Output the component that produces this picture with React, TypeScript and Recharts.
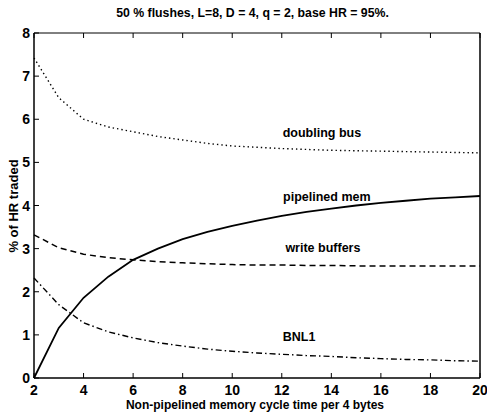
import React from 'react';
import {
  LineChart,
  Line,
  XAxis,
  YAxis,
  ReferenceDot,
} from 'recharts';

const cycleTimes = [2, 3, 4, 5, 6, 7, 8, 9, 10, 11, 12, 13, 14, 15, 16, 17, 18, 19, 20];
const doublingBus = [7.42, 6.5, 6.0, 5.82, 5.71, 5.6, 5.52, 5.44, 5.38, 5.35, 5.32, 5.3, 5.28, 5.27, 5.26, 5.25, 5.24, 5.23, 5.22];
const pipelinedMem = [0, 1.16, 1.86, 2.35, 2.74, 3.0, 3.22, 3.39, 3.53, 3.65, 3.76, 3.85, 3.93, 4.0, 4.06, 4.11, 4.16, 4.19, 4.22];
const writeBuffers = [3.32, 3.02, 2.87, 2.79, 2.74, 2.7, 2.67, 2.65, 2.63, 2.62, 2.62, 2.61, 2.61, 2.6, 2.6, 2.6, 2.6, 2.6, 2.6];
const bnl1 = [2.32, 1.7, 1.28, 1.07, 0.93, 0.82, 0.74, 0.67, 0.62, 0.58, 0.55, 0.52, 0.5, 0.47, 0.45, 0.43, 0.42, 0.4, 0.39];

const xTicks = [2, 4, 6, 8, 10, 12, 14, 16, 18, 20];
const yTicks = [0, 1, 2, 3, 4, 5, 6, 7, 8];

const seriesLabels = [
  { text: 'doubling bus', x: 13.62, y: 5.68 },
  { text: 'pipelined mem', x: 13.82, y: 4.2 },
  { text: 'write buffers', x: 13.66, y: 3.02 },
  { text: 'BNL1', x: 12.7, y: 0.95 },
];

const data = cycleTimes.map((t, i) => ({
  t,
  doubling: doublingBus[i],
  pipelined: pipelinedMem[i],
  buffers: writeBuffers[i],
  bnl1: bnl1[i],
}));

const W = 487;
const H = 414;
const PL = 34;
const PR = 480;
const PT = 33;
const PB = 378;
const TICK = 5;
const FONT = '"Liberation Sans", Arial, sans-serif';

// eslint-disable-next-line @typescript-eslint/no-explicit-any
function BottomTick({ x, payload }: any) {
  return (
    <g>
      <line x1={x} x2={x} y1={PB} y2={PB - TICK} stroke="#000" />
      <text x={x} y={PB + 17} textAnchor="middle" fontSize={14} fontWeight="bold" fontFamily={FONT} fill="#000">
        {payload.value}
      </text>
    </g>
  );
}

// eslint-disable-next-line @typescript-eslint/no-explicit-any
function TopTick({ x }: any) {
  return <line x1={x} x2={x} y1={PT} y2={PT + TICK} stroke="#000" />;
}

// eslint-disable-next-line @typescript-eslint/no-explicit-any
function LeftTick({ y, payload }: any) {
  return (
    <g>
      <line x1={PL} x2={PL + TICK} y1={y} y2={y} stroke="#000" />
      <text x={PL - 4} y={y + 5} textAnchor="end" fontSize={14} fontWeight="bold" fontFamily={FONT} fill="#000">
        {payload.value}
      </text>
    </g>
  );
}

// eslint-disable-next-line @typescript-eslint/no-explicit-any
function RightTick({ y }: any) {
  return <line x1={PR} x2={PR - TICK} y1={y} y2={y} stroke="#000" />;
}

export default function App() {
  return (
    <div style={{ position: 'absolute', left: 0, top: 0, width: W, height: H, background: '#fff' }}>
      <div
        style={{
          position: 'absolute',
          left: 0,
          width: 505,
          top: 6,
          textAlign: 'center',
          fontFamily: FONT,
          fontSize: 12.3,
          fontWeight: 'bold',
          color: '#000',
        }}
      >
        50 % flushes, L=8, D = 4, q = 2, base HR = 95%.
      </div>
      <div
        style={{
          position: 'absolute',
          left: 0,
          width: 510,
          top: 398,
          textAlign: 'center',
          fontFamily: FONT,
          fontSize: 12,
          fontWeight: 'bold',
          color: '#000',
        }}
      >
        Non-pipelined memory cycle time per 4 bytes
      </div>
      <div
        style={{
          position: 'absolute',
          left: 13,
          top: 206,
          transform: 'translate(-50%, -50%) rotate(-90deg)',
          whiteSpace: 'nowrap',
          fontFamily: FONT,
          fontSize: 13,
          fontWeight: 'bold',
          color: '#000',
        }}
      >
        % of HR traded
      </div>
      <LineChart
        width={W}
        height={H}
        data={data}
        margin={{ top: PT - 1, right: W - PR - 1, left: 0, bottom: 0 }}
      >
        <XAxis
          dataKey="t"
          type="number"
          domain={[2, 20]}
          ticks={xTicks}
          height={H - PB}
          tick={<BottomTick />}
          tickLine={false}
          axisLine={{ stroke: '#000', strokeWidth: 1.5 }}
          interval={0}
        />
        <XAxis
          xAxisId="top"
          orientation="top"
          dataKey="t"
          type="number"
          domain={[2, 20]}
          ticks={xTicks}
          height={1}
          tick={<TopTick />}
          tickLine={false}
          axisLine={{ stroke: '#000', strokeWidth: 1 }}
          interval={0}
        />
        <YAxis
          type="number"
          domain={[0, 8]}
          ticks={yTicks}
          width={PL}
          tick={<LeftTick />}
          tickLine={false}
          axisLine={{ stroke: '#000', strokeWidth: 1.5 }}
          interval={0}
        />
        <YAxis
          yAxisId="right"
          orientation="right"
          type="number"
          domain={[0, 8]}
          ticks={yTicks}
          width={1}
          tick={<RightTick />}
          tickLine={false}
          axisLine={{ stroke: '#000', strokeWidth: 1.5 }}
          interval={0}
        />
        <Line
          type="linear"
          dataKey="doubling"
          stroke="#000"
          strokeWidth={1.4}
          strokeDasharray="1.4 3"
          dot={false}
          isAnimationActive={false}
        />
        <Line
          type="linear"
          dataKey="pipelined"
          stroke="#000"
          strokeWidth={1.8}
          dot={false}
          isAnimationActive={false}
        />
        <Line
          type="linear"
          dataKey="buffers"
          stroke="#000"
          strokeWidth={1.5}
          strokeDasharray="6 4"
          dot={false}
          isAnimationActive={false}
        />
        <Line
          type="linear"
          dataKey="bnl1"
          stroke="#000"
          strokeWidth={1.4}
          strokeDasharray="6 3 1.5 3"
          dot={false}
          isAnimationActive={false}
        />
        {seriesLabels.map((l) => (
          <ReferenceDot
            key={l.text}
            x={l.x}
            y={l.y}
            r={0}
            fill="none"
            stroke="none"
            label={{
              value: l.text,
              position: 'center',
              fontSize: 12.5,
              fontWeight: 'bold',
              fontFamily: FONT,
              fill: '#000',
            }}
          />
        ))}
      </LineChart>
    </div>
  );
}
